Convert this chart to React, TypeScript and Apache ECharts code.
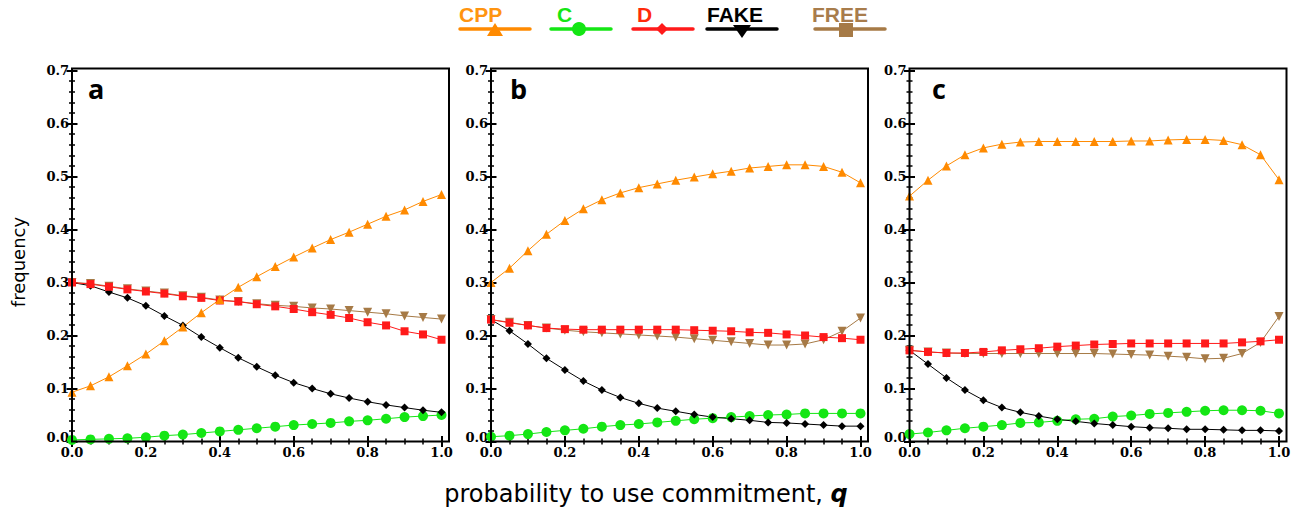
import React, { useEffect, useRef } from "react";
import * as echarts from "echarts";

const qValues = [0, 0.05, 0.1, 0.15, 0.2, 0.25, 0.3, 0.35, 0.4, 0.45, 0.5, 0.55, 0.6, 0.65, 0.7, 0.75, 0.8, 0.85, 0.9, 0.95, 1.0];

const seriesNames = ["CPP", "C", "D", "FAKE", "FREE"];
const panelLabels = ["a", "b", "c"];

// panel a
const aCPP = [0.093, 0.105, 0.122, 0.143, 0.165, 0.190, 0.216, 0.243, 0.268, 0.291, 0.311, 0.330, 0.348, 0.365, 0.381, 0.395, 0.410, 0.425, 0.437, 0.453, 0.466];
const aC = [0.003, 0.004, 0.005, 0.006, 0.008, 0.011, 0.013, 0.016, 0.019, 0.022, 0.025, 0.028, 0.031, 0.033, 0.035, 0.038, 0.040, 0.043, 0.046, 0.048, 0.050];
const aD = [0.300, 0.297, 0.292, 0.287, 0.283, 0.279, 0.274, 0.271, 0.266, 0.264, 0.259, 0.255, 0.250, 0.244, 0.239, 0.233, 0.225, 0.219, 0.208, 0.202, 0.192];
const aFAKE = [0.300, 0.294, 0.282, 0.271, 0.256, 0.237, 0.219, 0.197, 0.177, 0.158, 0.141, 0.125, 0.111, 0.100, 0.090, 0.082, 0.075, 0.069, 0.064, 0.059, 0.055];
const aFREE = [0.300, 0.298, 0.293, 0.288, 0.284, 0.280, 0.275, 0.272, 0.267, 0.264, 0.260, 0.257, 0.255, 0.252, 0.250, 0.247, 0.244, 0.241, 0.237, 0.234, 0.231];

// panel b
const bCPP = [0.300, 0.327, 0.360, 0.391, 0.417, 0.439, 0.456, 0.469, 0.479, 0.486, 0.493, 0.499, 0.505, 0.510, 0.516, 0.519, 0.522, 0.522, 0.519, 0.508, 0.488];
const bC = [0.009, 0.011, 0.014, 0.018, 0.021, 0.024, 0.028, 0.031, 0.033, 0.036, 0.039, 0.042, 0.044, 0.046, 0.048, 0.050, 0.051, 0.053, 0.053, 0.053, 0.053];
const bD = [0.230, 0.224, 0.219, 0.214, 0.212, 0.211, 0.211, 0.211, 0.211, 0.211, 0.211, 0.210, 0.209, 0.208, 0.206, 0.205, 0.202, 0.200, 0.197, 0.195, 0.192];
const bFAKE = [0.230, 0.209, 0.184, 0.157, 0.135, 0.114, 0.097, 0.083, 0.072, 0.063, 0.057, 0.051, 0.046, 0.043, 0.040, 0.036, 0.035, 0.033, 0.031, 0.029, 0.029];
const bFREE = [0.230, 0.225, 0.219, 0.214, 0.210, 0.207, 0.205, 0.203, 0.201, 0.199, 0.197, 0.194, 0.191, 0.188, 0.185, 0.182, 0.182, 0.184, 0.192, 0.208, 0.233];

// panel c
const cCPP = [0.463, 0.493, 0.520, 0.541, 0.554, 0.561, 0.565, 0.566, 0.566, 0.566, 0.566, 0.566, 0.567, 0.567, 0.569, 0.570, 0.570, 0.568, 0.560, 0.541, 0.494];
const cC = [0.014, 0.017, 0.021, 0.025, 0.028, 0.031, 0.035, 0.036, 0.039, 0.042, 0.043, 0.047, 0.049, 0.052, 0.054, 0.056, 0.058, 0.059, 0.059, 0.058, 0.053];
const cD = [0.172, 0.169, 0.167, 0.167, 0.169, 0.172, 0.174, 0.176, 0.179, 0.181, 0.183, 0.184, 0.185, 0.185, 0.185, 0.185, 0.185, 0.185, 0.187, 0.189, 0.192];
const cFAKE = [0.172, 0.146, 0.120, 0.097, 0.078, 0.064, 0.055, 0.048, 0.042, 0.038, 0.034, 0.031, 0.028, 0.026, 0.025, 0.023, 0.023, 0.022, 0.021, 0.021, 0.020];
const cFREE = [0.172, 0.169, 0.167, 0.166, 0.166, 0.166, 0.166, 0.166, 0.166, 0.166, 0.166, 0.165, 0.164, 0.163, 0.161, 0.159, 0.156, 0.157, 0.166, 0.187, 0.236];

const panels = [
  [aCPP, aC, aD, aFAKE, aFREE],
  [bCPP, bC, bD, bFAKE, bFREE],
  [cCPP, cC, cD, cFAKE, cFREE],
];

const COLORS = {
  CPP: "#ff8a00",
  C: "#14e614",
  D: "#ff1a1a",
  FAKE: "#000000",
  FREE: "#a67a46",
};
const LEGEND_TEXT_COLORS = {
  CPP: "#ff9410",
  C: "#14e614",
  D: "#ff2a0a",
  FAKE: "#000000",
  FREE: "#a87c4c",
};

const MARKERS = {
  CPP: { symbol: "triangle", size: 9, rotate: 0 },
  C: { symbol: "circle", size: 10, rotate: 0 },
  D: { symbol: "rect", size: 8, rotate: 0 },
  FAKE: { symbol: "diamond", size: 8, rotate: 0 },
  FREE: { symbol: "triangle", size: 9, rotate: 180 },
};

// layout
const GRID_LEFTS = [72, 491, 909.5];
const GRID_TOP = 70.5;
const GRID_W = 369.5;
const GRID_H = 371;
const FRAME_W = 377;
const FRAME_TOP = 68.5;

const tickFontBase = {
  fontFamily: "DejaVu Serif",
  fontWeight: "bold",
  fontSize: 13,
};

function makeAxis(kind: "x" | "y", gridIndex: number, secondary: boolean, minor: boolean) {
  const isX = kind === "x";
  const major = isX ? 0.2 : 0.1;
  const minorStep = isX ? 0.05 : 0.02;
  const showLabel = !secondary && !minor;
  const ax: any = {
    type: "value",
    gridIndex,
    min: 0,
    max: isX ? 1 : 0.7,
    interval: minor ? minorStep : major,
    position: isX ? (secondary ? "top" : "bottom") : secondary ? "right" : "left",
    offset: secondary ? (isX ? GRID_TOP - FRAME_TOP : FRAME_W - GRID_W) : 0,
    axisLine: { show: false },
    axisTick: {
      show: true,
      inside: true,
      length: minor ? 3 : 5.5,
      lineStyle: { color: "#000", width: minor ? 1.5 : 2 },
    },
    minorTick: { show: false },
    splitLine: { show: false },
    axisLabel: showLabel
      ? {
          show: true,
          margin: isX ? 4 : 3,
          color: "#000",
          ...tickFontBase,
          formatter: (v: number) =>
            !isX && Math.abs(v) < 1e-9 ? "{z|" + v.toFixed(1) + "}" : "{n|" + v.toFixed(1) + "}",
          rich: {
            n: { ...tickFontBase, color: "#000" },
            z: { ...tickFontBase, color: "#000", padding: [0, 0, 8, 0] },
          },
        }
      : { show: false },
  };
  return ax;
}

export default function App() {
  const ref = useRef<HTMLDivElement>(null);

  useEffect(() => {
    if (!ref.current) return;
    const chart = echarts.init(ref.current, null, { renderer: "svg" });

    const grids = GRID_LEFTS.map((left) => ({ left, top: GRID_TOP, width: GRID_W, height: GRID_H }));
    const xAxes: any[] = [];
    const yAxes: any[] = [];
    GRID_LEFTS.forEach((_, i) => {
      xAxes.push(makeAxis("x", i, false, false));
      xAxes.push(makeAxis("x", i, false, true));
      xAxes.push(makeAxis("x", i, true, false));
      xAxes.push(makeAxis("x", i, true, true));
      yAxes.push(makeAxis("y", i, false, false));
      yAxes.push(makeAxis("y", i, false, true));
      yAxes.push(makeAxis("y", i, true, false));
      yAxes.push(makeAxis("y", i, true, true));
    });

    const drawOrder = [1, 3, 4, 2, 0];
    const series: any[] = [];
    panels.forEach((panel, pi) => {
      drawOrder.forEach((si) => {
        const name = seriesNames[si];
        const m = (MARKERS as any)[name];
        series.push({
          type: "line",
          name,
          xAxisIndex: pi * 4,
          yAxisIndex: pi * 4,
          data: qValues.map((q, k) => [q, panel[si][k]]),
          symbol: m.symbol,
          symbolSize: m.size,
          symbolRotate: m.rotate,
          showAllSymbol: true,
          lineStyle: { color: (COLORS as any)[name], width: 1 },
          itemStyle: { color: (COLORS as any)[name] },
          clip: false,
          z: 3,
        });
      });
    });

    const graphics: any[] = [];
    GRID_LEFTS.forEach((left) => {
      graphics.push({
        type: "rect",
        shape: { x: left, y: FRAME_TOP, width: FRAME_W, height: GRID_TOP + GRID_H - FRAME_TOP },
        style: { fill: "none", stroke: "#000", lineWidth: 2 },
        z: 10,
      });
    });
    const letterX = [88, 510, 932];
    panelLabels.forEach((l, i) => {
      graphics.push({
        type: "text",
        x: letterX[i],
        y: 102,
        style: {
          text: l,
          fontFamily: "Open Sans",
          fontWeight: "bold",
          fontSize: 27,
          fill: "#000",
          verticalAlign: "bottom",
        },
        z: 10,
      });
    });
    graphics.push({
      type: "text",
      x: 18,
      y: 262,
      rotation: Math.PI / 2,
      style: {
        text: "frequency",
        fontFamily: "DejaVu Sans",
        fontSize: 18,
        fill: "#000",
        align: "center",
        verticalAlign: "middle",
      },
    });
    graphics.push({
      type: "text",
      x: 646,
      y: 494,
      style: {
        text: "{n|probability to use commitment, }{q|q}",
        align: "center",
        verticalAlign: "middle",
        rich: {
          n: { fontFamily: "DejaVu Sans", fontSize: 24, color: "#000" },
          q: { fontFamily: "DejaVu Sans", fontSize: 24, fontWeight: "bold", fontStyle: "italic", color: "#000" },
        },
      },
    });

    const legendItems = [
      { name: "CPP", textX: 459, x1: 460, x2: 530, sx: 495 },
      { name: "C", textX: 557, x1: 551, x2: 611, sx: 579 },
      { name: "D", textX: 637, x1: 633, x2: 693, sx: 662 },
      { name: "FAKE", textX: 707, x1: 707, x2: 777, sx: 742 },
      { name: "FREE", textX: 812, x1: 815, x2: 885, sx: 846 },
    ];
    const LY = 29;
    legendItems.forEach((it) => {
      const col = (COLORS as any)[it.name];
      graphics.push({
        type: "text",
        x: it.textX,
        y: 14,
        style: {
          text: it.name,
          fontFamily: "Liberation Sans",
          fontWeight: "bold",
          fontSize: 21,
          fill: (LEGEND_TEXT_COLORS as any)[it.name],
          verticalAlign: "middle",
        },
      });
      graphics.push({
        type: "line",
        shape: { x1: it.x1, y1: LY, x2: it.x2, y2: LY },
        style: { stroke: col, lineWidth: 3.5, lineCap: "round" },
      });
      if (it.name === "CPP") {
        graphics.push({ type: "polygon", shape: { points: [[it.sx - 8, LY + 7], [it.sx + 8, LY + 7], [it.sx, LY - 6]] }, style: { fill: col } });
      } else if (it.name === "C") {
        graphics.push({ type: "circle", shape: { cx: it.sx, cy: LY, r: 7 }, style: { fill: col } });
      } else if (it.name === "D") {
        graphics.push({ type: "polygon", shape: { points: [[it.sx, LY - 6], [it.sx + 6, LY], [it.sx, LY + 6], [it.sx - 6, LY]] }, style: { fill: col } });
      } else if (it.name === "FAKE") {
        graphics.push({ type: "polygon", shape: { points: [[it.sx - 9, LY - 4], [it.sx + 9, LY - 4], [it.sx, LY + 9]] }, style: { fill: col } });
      } else {
        graphics.push({ type: "rect", shape: { x: it.sx - 7, y: LY - 6, width: 14, height: 14 }, style: { fill: col } });
      }
    });

    chart.setOption({
      animation: false,
      backgroundColor: "#fff",
      grid: grids,
      xAxis: xAxes,
      yAxis: yAxes,
      series,
      graphic: graphics,
    });

    return () => chart.dispose();
  }, []);

  return <div ref={ref} style={{ position: "absolute", left: 0, top: 0, width: 1301, height: 518 }} />;
}
